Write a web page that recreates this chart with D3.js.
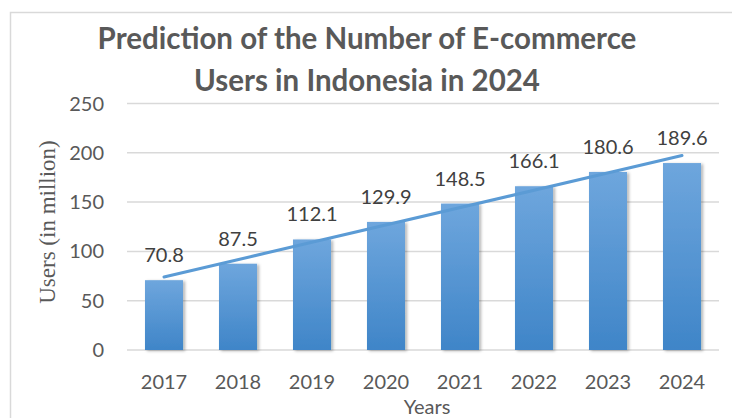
<!DOCTYPE html>
<html>
<head>
<meta charset="utf-8">
<script src="https://cdn.jsdelivr.net/npm/d3@7"></script>
<style>
  body { margin: 0; background: #fff; }
  svg { display: block; }
  text { font-family: Lato, "Open Sans", sans-serif; }
</style>
</head>
<body>
<svg id="chart" width="732" height="418"></svg>
<script>
const years = ['2017', '2018', '2019', '2020', '2021', '2022', '2023', '2024'];
const users = [70.8, 87.5, 112.1, 129.9, 148.5, 166.1, 180.6, 189.6];
const yTicks = [0, 50, 100, 150, 200, 250];
const titleLines = ['Prediction of the Number of E-commerce', 'Users in Indonesia in 2024'];

const svg = d3.select('#chart');
const W = 732, H = 418;
const plot = { left: 127, right: 719, top: 103.5, bottom: 350 };

const defs = svg.append('defs');
const grad = defs.append('linearGradient')
  .attr('id', 'bar-grad').attr('x1', 0).attr('y1', 0).attr('x2', 0).attr('y2', 1);
grad.append('stop').attr('offset', '0%').attr('stop-color', '#6ea6dd');
grad.append('stop').attr('offset', '100%').attr('stop-color', '#3f85c8');

const shadow = defs.append('filter').attr('id', 'shadow')
  .attr('x', '-20%').attr('y', '-20%').attr('width', '150%').attr('height', '150%');
shadow.append('feDropShadow')
  .attr('dx', 2).attr('dy', 1).attr('stdDeviation', 1.6)
  .attr('flood-color', '#000').attr('flood-opacity', 0.3);

// chart frame (runs off the right and bottom edges)
svg.append('rect')
  .attr('x', 10.5).attr('y', 12.5)
  .attr('width', W + 20).attr('height', H + 20)
  .attr('fill', 'none').attr('stroke', '#d9d9d9').attr('stroke-width', 1.5);

const x = d3.scaleBand().domain(years).range([plot.left, plot.right]).paddingInner(0.486).paddingOuter(0.243);
const y = d3.scaleLinear().domain([0, 250]).range([plot.bottom, plot.top]);

// gridlines
svg.append('g')
  .selectAll('line')
  .data(yTicks)
  .join('line')
  .attr('x1', plot.left).attr('x2', plot.right)
  .attr('y1', d => y(d)).attr('y2', d => y(d))
  .attr('stroke', '#d9d9d9').attr('stroke-width', 1.5);

// y tick labels
svg.append('g')
  .selectAll('text')
  .data(yTicks)
  .join('text')
  .attr('x', 104).attr('y', d => y(d))
  .attr('dy', '0.35em')
  .attr('text-anchor', 'end')
  .attr('fill', '#595959')
  .attr('font-size', 20)
  .text(d => d);

// bars
svg.append('g')
  .selectAll('rect')
  .data(users)
  .join('rect')
  .attr('x', (d, i) => x(years[i]))
  .attr('y', d => y(d))
  .attr('width', x.bandwidth())
  .attr('height', d => y(0) - y(d))
  .attr('fill', 'url(#bar-grad)')
  .attr('filter', 'url(#shadow)');

// linear trendline (least squares over the bar values)
const xs = users.map((d, i) => i + 1);
const mx = d3.mean(xs), my = d3.mean(users);
const slope = d3.sum(xs, (v, i) => (v - mx) * (users[i] - my)) / d3.sum(xs, v => (v - mx) ** 2);
const icpt = my - slope * mx;
const cx = i => x(years[i]) + x.bandwidth() / 2;
svg.append('line')
  .attr('x1', cx(0)).attr('y1', y(icpt + slope * 1))
  .attr('x2', cx(years.length - 1)).attr('y2', y(icpt + slope * years.length))
  .attr('stroke', '#5b9bd5').attr('stroke-width', 3)
  .attr('stroke-linecap', 'round');

// value labels
svg.append('g')
  .selectAll('text')
  .data(users)
  .join('text')
  .attr('x', (d, i) => cx(i))
  .attr('y', d => y(d) - 18)
  .attr('text-anchor', 'middle')
  .attr('fill', '#404040')
  .attr('font-size', 20)
  .text(d => d.toFixed(1));

// x tick labels
svg.append('g')
  .selectAll('text')
  .data(years)
  .join('text')
  .attr('x', d => x(d) + x.bandwidth() / 2)
  .attr('y', 389)
  .attr('text-anchor', 'middle')
  .attr('fill', '#595959')
  .attr('font-size', 20)
  .text(d => d);

// axis titles
svg.append('text')
  .attr('x', 427).attr('y', 414)
  .attr('text-anchor', 'middle')
  .attr('fill', '#595959')
  .attr('font-size', 20)
  .text('Years');

svg.append('text')
  .attr('transform', 'translate(55,222) rotate(-90)')
  .attr('text-anchor', 'middle')
  .attr('fill', '#595959')
  .attr('font-size', 23)
  .style('font-family', '"Liberation Serif", "DejaVu Serif", serif')
  .text('Users (in million)');

// chart title
svg.append('g')
  .selectAll('text')
  .data(titleLines)
  .join('text')
  .attr('x', 367)
  .attr('y', (d, i) => 49 + i * 42)
  .attr('text-anchor', 'middle')
  .attr('fill', '#595959')
  .attr('font-size', 29.5)
  .attr('font-weight', 700)
  .text(d => d);
</script>
</body>
</html>
